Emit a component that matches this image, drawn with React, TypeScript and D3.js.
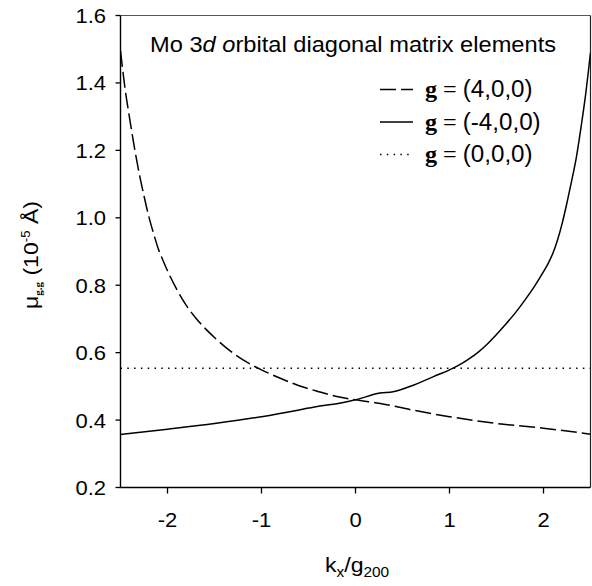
import React from "react";
import * as d3 from "d3";

const kPlus = [-2.5, -2.45, -2.4, -2.35, -2.3, -2.25, -2.2, -2.15, -2.1, -2.05, -2.0, -1.9, -1.8, -1.7, -1.6, -1.5, -1.4, -1.3, -1.2, -1.1, -1.0, -0.8, -0.6, -0.4, -0.2, 0, 0.25, 0.6, 1.0, 1.5, 2.0, 2.5];
const muPlus = [1.495, 1.38, 1.29, 1.205, 1.13, 1.065, 1.005, 0.955, 0.91, 0.875, 0.843, 0.787, 0.74, 0.703, 0.672, 0.645, 0.62, 0.598, 0.579, 0.563, 0.549, 0.524, 0.502, 0.485, 0.47, 0.46, 0.45, 0.43, 0.41, 0.39, 0.376, 0.358];

const kMinus = [-2.5, -2.0, -1.5, -1.0, -0.6, -0.38, -0.17, 0, 0.26, 0.4, 0.62, 0.83, 1.0, 1.1, 1.2, 1.3, 1.4, 1.5, 1.6, 1.7, 1.8, 1.9, 2.0, 2.05, 2.1, 2.15, 2.2, 2.25, 2.3, 2.35, 2.4, 2.45, 2.5];
const muMinus = [0.357, 0.373, 0.39, 0.41, 0.43, 0.442, 0.45, 0.46, 0.48, 0.484, 0.504, 0.529, 0.549, 0.563, 0.58, 0.6, 0.625, 0.654, 0.685, 0.718, 0.755, 0.795, 0.84, 0.865, 0.895, 0.935, 0.985, 1.045, 1.11, 1.18, 1.27, 1.37, 1.49];

const kZero = [-2.5, 2.5];
const muZero = [0.554, 0.554];

const xTicks = [-2, -1, 0, 1, 2];
const yTicks = [0.2, 0.4, 0.6, 0.8, 1.0, 1.2, 1.4, 1.6];
const legendLabels = ["(4,0,0)", "(-4,0,0)", "(0,0,0)"];

const SANS = "'Liberation Sans', Arial, Helvetica, sans-serif";
const SERIF = "'Liberation Serif', 'Times New Roman', serif";
const SX = 1.1;

export default function App() {
  const left = 120.5, right = 590.5, top = 15.5, bottom = 487.5;
  const x = d3.scaleLinear().domain([-2.5, 2.5]).range([left, right]);
  const y = d3.scaleLinear().domain([0.2, 1.6]).range([bottom, top]);
  const line = d3
    .line<[number, number]>()
    .x((d) => x(d[0]))
    .y((d) => y(d[1]))
    .curve(d3.curveMonotoneX);
  const zip = (a: number[], b: number[]) => a.map((v, i) => [v, b[i]] as [number, number]);

  const series = [
    { d: zip(kPlus, muPlus), dash: "16 5" },
    { d: zip(kMinus, muMinus), dash: "none" },
    { d: zip(kZero, muZero), dash: "1.5 5.3" },
  ];
  const legendY = [89.5, 122, 154.5];

  return (
    <svg width={592} height={586} style={{ position: "absolute", left: 0, top: 0, background: "#fff" }}>
      <rect x={0} y={0} width={592} height={586} fill="#fff" />
      <defs>
        <clipPath id="plot">
          <rect x={left} y={top} width={right - left} height={bottom - top} />
        </clipPath>
      </defs>
      {/* frame */}
      <line x1={left} x2={right} y1={top} y2={top} stroke="#555" strokeWidth={1.2} />
      <line x1={right} x2={right} y1={top} y2={bottom} stroke="#222" strokeWidth={1.2} />
      <line x1={left} x2={left} y1={top} y2={bottom} stroke="#000" strokeWidth={1.4} />
      <line x1={left} x2={right} y1={bottom} y2={bottom} stroke="#000" strokeWidth={1.4} />
      {/* y ticks */}
      {yTicks.map((t) => (
        <g key={"y" + t}>
          <line x1={left - 5} x2={left} y1={y(t)} y2={y(t)} stroke="#000" strokeWidth={1.3} />
          <text
            transform={`translate(106,${y(t) + 7.5}) scale(${SX},1)`}
            textAnchor="end"
            fontFamily={SANS}
            fontSize={20}
            fill="#000"
          >
            {t.toFixed(1)}
          </text>
        </g>
      ))}
      {/* x ticks */}
      {xTicks.map((t) => (
        <g key={"x" + t}>
          <line x1={x(t)} x2={x(t)} y1={bottom} y2={bottom + 6} stroke="#000" strokeWidth={1.3} />
          <text
            transform={`translate(${x(t)},527) scale(${SX},1)`}
            textAnchor="middle"
            fontFamily={SANS}
            fontSize={20}
            fill="#000"
          >
            {t}
          </text>
        </g>
      ))}
      {/* curves */}
      <g clipPath="url(#plot)">
        {series.map((s, i) => (
          <path
            key={i}
            d={line(s.d) || ""}
            fill="none"
            stroke="#000"
            strokeWidth={1.5}
            strokeDasharray={s.dash}
          />
        ))}
      </g>
      {/* title */}
      <text transform={`translate(150,52) scale(1.075,1)`} fontFamily={SANS} fontSize={22} fill="#000">
        Mo 3<tspan fontStyle="italic">d</tspan> <tspan fontStyle="italic">o</tspan>rbital diagonal matrix elements
      </text>
      {/* legend */}
      {series.map((s, i) => (
        <g key={"l" + i}>
          <line
            x1={380}
            x2={413}
            y1={legendY[i]}
            y2={legendY[i]}
            stroke="#000"
            strokeWidth={1.5}
            strokeDasharray={i === 0 ? "16 5" : i === 2 ? "1.5 5.3" : "none"}
          />
          <text transform={`translate(425,${legendY[i] + 7.5}) scale(1.05,1)`} fontSize={23} fill="#000">
            <tspan fontFamily={SERIF} fontWeight="bold">g</tspan>
            <tspan fontFamily={SERIF}> = </tspan>
            <tspan fontFamily={SANS}>{legendLabels[i]}</tspan>
          </text>
        </g>
      ))}
      {/* x label */}
      <text transform={`translate(325,572) scale(${SX},1)`} fontFamily={SANS} fontSize={21} fill="#000">
        k<tspan fontSize={14} dy={5}>x</tspan>
        <tspan dy={-5}>/g</tspan>
        <tspan fontSize={14} dy={5}>200</tspan>
      </text>
      {/* y label */}
      <text
        transform={`translate(38,255) rotate(-90) scale(${SX},1)`}
        textAnchor="middle"
        fontFamily={SANS}
        fontSize={21}
        fill="#000"
      >
        μ<tspan fontFamily={SERIF} fontWeight="bold" fontSize={10} dy={4}>g.g</tspan>
        <tspan dy={-4}> (10</tspan>
        <tspan fontSize={12} dy={-8}>-5</tspan>
        <tspan dy={8}> Å)</tspan>
      </text>
    </svg>
  );
}
